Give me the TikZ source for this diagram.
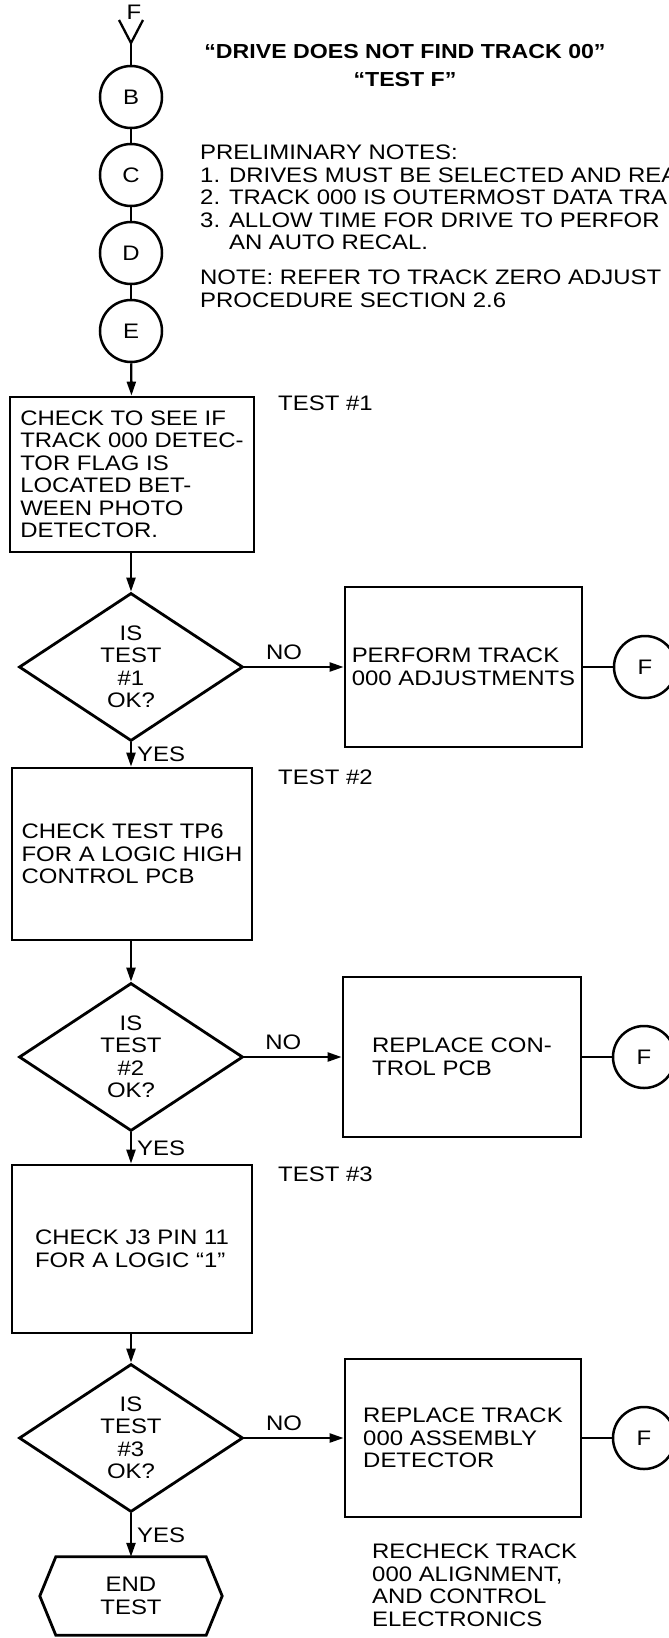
\documentclass[tikz,border=0pt]{standalone}
\usepackage{fontspec}
\setmainfont{Liberation Sans}[FakeStretch=1.14]
\usetikzlibrary{shapes.geometric,arrows.meta}

\begin{document}
\begin{tikzpicture}[x=1pt,y=-1pt,
  font=\fontsize{21}{22.5}\selectfont,
  flow/.style={line width=2.3pt},
  arr/.style={flow,-{Triangle[length=14pt,width=9pt]}},
  box/.style={draw,line width=2.8pt,align=left,inner sep=0pt},
  decision/.style={draw,diamond,line width=2.8pt,align=center,inner sep=0pt,
    minimum width=224pt,minimum height=148pt},
  conn/.style={draw,circle,line width=2.5pt,minimum size=62pt,inner sep=0pt},
  lbl/.style={inner sep=0pt}]
  \useasboundingbox (0,0) rectangle (669,1638);
  \clip (0,0) rectangle (669,1638);

  \node[lbl] (fl) at (134,12) {F};
  \coordinate (fin) at (131,43);
  \draw[flow] (119,20) -- (fin) -- (143,20);
  \node[conn] (B) at (131,97) {B};
  \node[conn] (C) at (131,175) {C};
  \node[conn] (D) at (131,253) {D};
  \node[conn] (E) at (131,331) {E};
  \draw[flow] (fin) -- (B) (B) -- (C) (C) -- (D) (D) -- (E);

  \node[font=\fontsize{20.3}{28}\selectfont\bfseries, align=center] (title) at (405,66)
    {“DRIVE DOES NOT FIND TRACK 00”\\“TEST F”};
  \node[lbl, align=left, anchor=north west] (notes) at (200,145)
    {PRELIMINARY NOTES:\\1. DRIVES MUST BE SELECTED AND REA\\2. TRACK 000 IS OUTERMOST DATA TRA\\3. ALLOW TIME FOR DRIVE TO PERFOR\\\phantom{3. }AN AUTO RECAL.};
  \node[lbl, align=left, anchor=north west] (note) at (200,270)
    {NOTE: REFER TO TRACK ZERO ADJUST\\PROCEDURE SECTION 2.6};

  \node[box, minimum width=244pt, minimum height=155pt] (chk1) at (132,474.5)
    {CHECK TO SEE IF\\TRACK 000 DETEC-\\TOR FLAG IS\\LOCATED BET-\\WEEN PHOTO\\DETECTOR.};
  \node[lbl, anchor=west] (t1) at (278,403) {TEST \#1};
  \draw[arr] (E) -- (chk1);
  \node[decision] (q1) at (131,667) {IS\\TEST\\\#1\\OK?};
  \draw[arr] (chk1.south -| q1) -- (q1);
  \node[box, minimum width=237pt, minimum height=160pt] (fix1) at (463.5,667)
    {PERFORM TRACK\\000 ADJUSTMENTS};
  \node[conn] (F1) at (645,667) {F};
  \draw[arr] (q1) -- node[lbl, pos=0.4, above=6pt] {NO} (fix1);
  \draw[flow] (fix1) -- (F1);

  \node[box, minimum width=240pt, minimum height=172pt] (chk2) at (132,854)
    {CHECK TEST TP6\\FOR A LOGIC HIGH\\CONTROL PCB};
  \node[lbl, anchor=west] (t2) at (278,777) {TEST \#2};
  \draw[arr] (q1) -- node[lbl, right=5pt] {YES} (q1 |- chk2.north);
  \node[decision] (q2) at (131,1057) {IS\\TEST\\\#2\\OK?};
  \draw[arr] (chk2.south -| q2) -- (q2);
  \node[box, minimum width=238pt, minimum height=160pt] (fix2) at (462,1057)
    {REPLACE CON-\\TROL PCB};
  \node[conn] (F2) at (644,1057) {F};
  \draw[arr] (q2) -- node[lbl, pos=0.4, above=6pt] {NO} (fix2);
  \draw[flow] (fix2) -- (F2);

  \node[box, minimum width=240pt, minimum height=168pt] (chk3) at (132,1249)
    {CHECK J3 PIN 11\\FOR A LOGIC “1”};
  \node[lbl, anchor=west] (t3) at (278,1174) {TEST \#3};
  \draw[arr] (q2) -- node[lbl, right=5pt] {YES} (q2 |- chk3.north);
  \node[decision] (q3) at (131,1438) {IS\\TEST\\\#3\\OK?};
  \draw[arr] (chk3.south -| q3) -- (q3);
  \node[box, minimum width=236pt, minimum height=158pt] (fix3) at (463,1438)
    {REPLACE TRACK\\000 ASSEMBLY\\DETECTOR};
  \node[conn] (F3) at (644,1438) {F};
  \draw[arr] (q3) -- node[lbl, pos=0.4, above=6pt] {NO} (fix3);
  \draw[flow] (fix3) -- (F3);
  \node[lbl, align=left, anchor=north west] (recheck) at (372,1544)
    {RECHECK TRACK\\000 ALIGNMENT,\\AND CONTROL\\ELECTRONICS};

  \node[lbl, align=center, minimum width=150pt, minimum height=78pt] (endtest) at (131,1596)
    {END\\TEST};
  \draw[line width=2.8pt] (endtest.north west) -- (endtest.north east) -- ([xshift=16pt]endtest.east)
    -- (endtest.south east) -- (endtest.south west) -- ([xshift=-16pt]endtest.west) -- cycle;
  \draw[arr] (q3) -- node[lbl, right=5pt] {YES} (endtest);
\end{tikzpicture}
\end{document}
